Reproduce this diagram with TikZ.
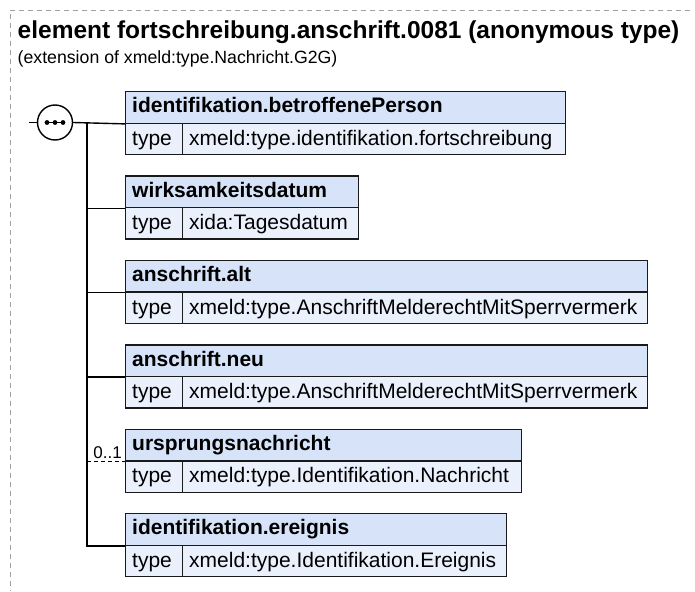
\documentclass[tikz,border=0pt]{standalone}
\usepackage{fontspec}
\setmainfont{Liberation Sans}
\usetikzlibrary{calc}
\definecolor{hdrfill}{HTML}{D6E3F8}
\definecolor{typefill}{HTML}{EBF1FC}
\definecolor{boxline}{HTML}{1A1A1A}
\definecolor{framecol}{HTML}{A0A0A0}
\newcommand{\dgTitle}{\fontsize{24.5}{28}\selectfont\bfseries}
\newcommand{\dgSub}{\fontsize{17.7}{21}\selectfont}
\newcommand{\dgHdr}{\fontsize{21}{24}\selectfont\bfseries}
\newcommand{\dgCell}{\fontsize{21}{24}\selectfont}
\newcommand{\dgCard}{\fontsize{17}{20}\selectfont}
\begin{document}
\begin{tikzpicture}[x=1pt,y=-1pt,
  cell/.style={draw=boxline, line width=1.4pt, anchor=north west, inner xsep=6.5pt,
    inner ysep=0pt, minimum height=31.5pt, align=left},
  hdr/.style={cell, fill=hdrfill, font=\dgHdr, text width=#1, text height=15pt, text depth=4pt},
  tlab/.style={cell, fill=typefill, font=\dgCell, text width=44pt, text height=15.5pt, text depth=3pt},
  tval/.style={cell, fill=typefill, font=\dgCell, text width=#1, text height=15.5pt, text depth=3pt},
  wire/.style={line width=1.4pt, draw=black},
  card/.style={font=\dgCard, anchor=base east, inner sep=0pt}
]
\useasboundingbox (0,0) rectangle (695,591);
% frame
\coordinate (fr1) at (690,10);
\coordinate (fr2) at (10,10);
\coordinate (fr3) at (10,591);
\draw[framecol, line width=0.8pt, dash pattern=on 5pt off 4pt] (fr1) -- (fr2) -- (fr3);
% title
\node[anchor=base west, inner sep=0pt, font=\dgTitle] (title) at (17.5,39) {element fortschreibung.anschrift.0081 (anonymous type)};
\node[anchor=base west, inner sep=0pt, font=\dgSub] (sub) at (17.5,64) {(extension of xmeld:type.Nachricht.G2G)};
% boxes
\node[hdr=427pt] (h1) at (125,91) {identifikation.betroffenePerson};
\node[tlab] (l1) at (125,122.5) {type};
\node[tval=370pt] (v1) at (182,122.5) {xmeld:type.identifikation.fortschreibung};

\node[hdr=220pt] (h2) at (125,175.4) {wirksamkeitsdatum};
\node[tlab] (l2) at (125,206.9) {type};
\node[tval=163pt] (v2) at (182,206.9) {xida:Tagesdatum};

\node[hdr=509pt] (h3) at (125,259.8) {anschrift.alt};
\node[tlab] (l3) at (125,291.3) {type};
\node[tval=452pt] (v3) at (182,291.3) {xmeld:type.AnschriftMelderechtMitSperrvermerk};

\node[hdr=509pt] (h4) at (125,344.2) {anschrift.neu};
\node[tlab] (l4) at (125,375.7) {type};
\node[tval=452pt] (v4) at (182,375.7) {xmeld:type.AnschriftMelderechtMitSperrvermerk};

\node[hdr=383pt] (h5) at (125,428.6) {ursprungsnachricht};
\node[tlab] (l5) at (125,460.1) {type};
\node[tval=326pt] (v5) at (182,460.1) {xmeld:type.Identifikation.Nachricht};

\node[hdr=368pt] (h6) at (125,513) {identifikation.ereignis};
\node[tlab] (l6) at (125,544.5) {type};
\node[tval=311pt] (v6) at (182,544.5) {xmeld:type.Identifikation.Ereignis};

% sequence symbol
\node[circle, draw=black, fill=white, line width=1.4pt, minimum size=35pt, inner sep=0pt] (seq) at (55,122.5) {};
\coordinate (inp) at (29,122.5);
\coordinate (bus) at (87,122.5);
\draw[wire] (inp) -- (seq.west);
\draw[wire] (seq.east) -- (h1.south west);
\draw[line width=1.2pt] (47,122.5) -- (63,122.5);
\fill (47,122.5) circle (2.4pt) (55,122.5) circle (2.4pt) (63,122.5) circle (2.4pt);
% bus
\draw[wire] (bus) |- (h6.south west);
\draw[wire] (h2.south west -| bus) -- (h2.south west);
\draw[wire] (h3.south west -| bus) -- (h3.south west);
\draw[wire] (h4.south west -| bus) -- (h4.south west);
\draw[line width=1.2pt, dash pattern=on 4pt off 3pt] (h5.south west -| bus) -- (h5.south west);
\node[card] (c5) at ($(h5.south west)+(-3,-3.5)$) {0..1};
\end{tikzpicture}
\end{document}
